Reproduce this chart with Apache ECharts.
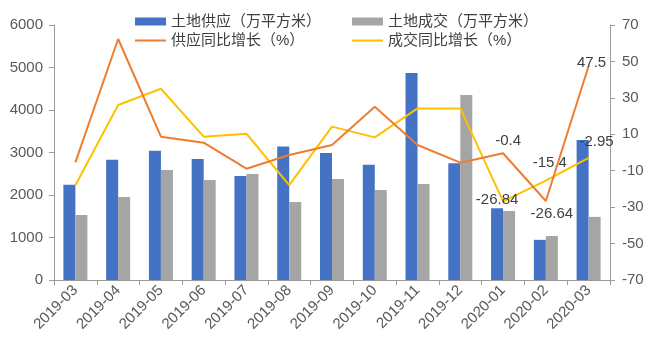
<!DOCTYPE html>
<html><head><meta charset="utf-8">
<script src="https://cdn.jsdelivr.net/npm/echarts@6/dist/echarts.min.js"></script>
<style>html,body{margin:0;padding:0;background:#fff}#c{width:653px;height:364px}</style>
</head><body><div id="c"></div>
<script>
const categories = ['2019-03','2019-04','2019-05','2019-06','2019-07','2019-08','2019-09','2019-10','2019-11','2019-12','2020-01','2020-02','2020-03'];
const supply = [2240, 2830, 3040, 2850, 2450, 3140, 2990, 2710, 4870, 2750, 1690, 945, 3295];
const deal = [1530, 1955, 2590, 2355, 2495, 1835, 2375, 2120, 2260, 4355, 1625, 1035, 1485];
const supplyYoY = [-5.4, 62.3, 8.7, 5.4, -8.9, -1.4, 4.1, 25.1, 4.1, -5.6, -0.4, -26.64, 47.5];
const dealYoY = [-18, 26.1, 35, 8.7, 10.3, -17.9, 14.2, 8.3, 24.2, 24.2, -26.84, -15.4, -2.95];
const leftTicks = {min: 0, max: 6000, interval: 1000};
const rightTicks = {min: -70, max: 70, interval: 20};

const FONT = "'Liberation Sans', 'Noto Sans CJK SC', sans-serif";
const names = ['土地供应（万平方米）','土地成交（万平方米）','供应同比增长（%）','成交同比增长（%）'];

function labelled(arr, cfgs) {
  return arr.map((v, i) => {
    const c = cfgs[i];
    if (!c) return v;
    return {value: v, label: Object.assign({show: true, color: '#404040', fontSize: 15, fontFamily: FONT, formatter: String(v)}, c)};
  });
}
const n = supplyYoY.length;
const supCfg = {}; supCfg[n-3] = {position: 'top', distance: 5, offset: [5, 0]};
supCfg[n-2] = {position: 'bottom', distance: 5, offset: [6, 0]};
supCfg[n-1] = {position: 'top', distance: 0, offset: [3, 4]};
const dealCfg = {}; dealCfg[n-3] = {position: 'inside', offset: [-6, -2]};
dealCfg[n-2] = {position: 'top', distance: 5, offset: [4, -5]};
dealCfg[n-1] = {position: 'top', distance: 5, offset: [8, -4]};

const chart = echarts.init(document.getElementById('c'), null, {renderer: 'canvas'});
const axisColor = '#9a9a9a';
const legTxt = {fontSize: 15, color: '#404040', fontFamily: FONT};
function leg(left, top, name, h) {
  return {left: left, top: top, itemWidth: 31, itemHeight: h, icon: 'rect', textStyle: legTxt, data: [name]};
}
chart.setOption({
  animation: false,
  textStyle: {fontFamily: FONT},
  legend: [
    leg(130, 9, names[0], 8),
    leg(347, 9, names[1], 8),
    leg(130, 28, names[2], 2),
    leg(347, 28, names[3], 2)
  ],
  grid: {left: 54, right: 43, top: 25, bottom: 84, containLabel: false},
  xAxis: {
    type: 'category', data: categories,
    axisLine: {lineStyle: {color: axisColor}},
    axisTick: {show: true, alignWithLabel: false, length: 5, lineStyle: {color: axisColor}},
    axisLabel: {rotate: 45, fontSize: 15, color: '#595959', margin: 8, fontFamily: FONT, interval: 0}
  },
  yAxis: [
    {type: 'value', min: leftTicks.min, max: leftTicks.max, interval: leftTicks.interval,
     axisLine: {show: true, lineStyle: {color: axisColor}},
     axisTick: {show: true, length: 5, lineStyle: {color: axisColor}},
     splitLine: {show: false},
     axisLabel: {fontSize: 15, color: '#595959', margin: 11, fontFamily: FONT, formatter: v => String(v)}},
    {type: 'value', min: rightTicks.min, max: rightTicks.max, interval: rightTicks.interval, position: 'right',
     axisLine: {show: true, lineStyle: {color: axisColor}},
     axisTick: {show: true, length: 5, lineStyle: {color: axisColor}},
     splitLine: {show: false},
     axisLabel: {fontSize: 15, color: '#595959', margin: 12, fontFamily: FONT, formatter: v => String(v)}}
  ],
  series: [
    {name: names[0], type: 'bar', data: supply, barWidth: 12, barGap: '0%', itemStyle: {color: '#4472C4'}},
    {name: names[1], type: 'bar', data: deal, barWidth: 12, barGap: '0%', itemStyle: {color: '#A5A5A5'}},
    {name: names[2], type: 'line', yAxisIndex: 1, data: labelled(supplyYoY, supCfg), symbol: 'circle', symbolSize: 0.01, showSymbol: true,
     lineStyle: {color: '#ED7D31', width: 2}, itemStyle: {color: '#ED7D31'}, z: 5},
    {name: names[3], type: 'line', yAxisIndex: 1, data: labelled(dealYoY, dealCfg), symbol: 'circle', symbolSize: 0.01, showSymbol: true,
     lineStyle: {color: '#FFC000', width: 2}, itemStyle: {color: '#FFC000'}, z: 4}
  ]
});
</script></body></html>
